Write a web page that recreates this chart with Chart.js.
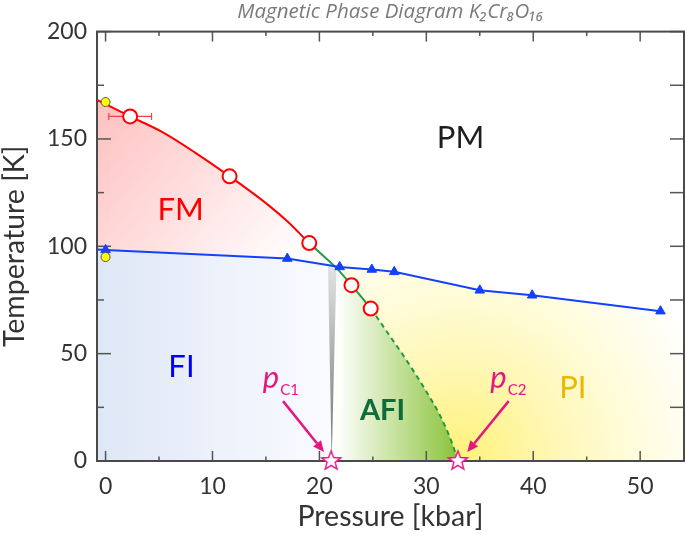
<!DOCTYPE html>
<html><head><meta charset="utf-8">
<script src="https://cdn.jsdelivr.net/npm/chart.js@4.4.1/dist/chart.umd.min.js"></script>
<style>html,body{margin:0;padding:0;background:#fff;}#wrap{width:685px;height:535px;}</style>
</head><body><div id="wrap"><canvas id="c" width="685" height="535"></canvas></div>
<script>
// ---------------- data ----------------
const xRange = [-0.8, 54.1];
const yRange = [0, 200];
const xTickValues = [0, 10, 20, 30, 40, 50];
const xMinorTickValues = [5, 15, 25, 35, 45];
const yTickValues = [0, 50, 100, 150, 200];
const yMinorTickValues = [25, 75, 125, 175];

// magnetic ordering boundary (FM -> PM, continued as AFI boundary)
const tcCurveP = [-0.8, 2.3, 5.2, 8.3, 11.6, 15.2, 17.1, 19.05, 21.65, 23.0, 24.8, 26.2, 28.0, 29.8, 31.3, 32.4, 32.95];
const tcCurveT = [168.2, 160.5, 153.5, 143.9, 132.6, 119.3, 111.2, 101.5, 89.6, 81.9, 71.0, 61.0, 48.0, 34.0, 21.0, 8.5, 0];
const greenStartP = 19.05;   // curve turns green here
const dashStartP = 24.8;     // curve turns dashed here
const crossP = 21.65;        // crossing with the metal-insulator line

// measured Tc (open red circles) and pressure error
const tcDataP = [2.3, 11.6, 19.05, 23.0, 24.8];
const tcDataT = [160.5, 132.6, 101.5, 81.9, 71.0];
const tcDataErrP = [2.0, 0, 0, 0, 0];

// metal-insulator transition (blue triangles)
const mitP = [0, 17.0, 21.9, 24.9, 27.0, 35.0, 39.9, 51.9];
const mitT = [98.3, 94.3, 90.4, 89.2, 88.1, 79.5, 77.2, 69.8];
const mitEdgeP = [-0.8, 54.1];   // where the line / PI region meet the frame
const mitEdgeT = [98.5, 68.4];

// ambient pressure points (yellow)
const ambientP = [0, 0];
const ambientT = [167.2, 95.0];

// critical pressures (stars)
const pcP = [21.1, 32.95];
const pcT = [0, 0];

// FI / AFI boundary (grey wedge)
const wedgeP = [20.8, 21.6, 21.15];
const wedgeT = [91.2, 90.6, 0];

// ---------------- helpers ----------------
const pts = (P, T) => P.map((p, i) => ({x: p, y: T[i]}));
const curvePts = pts(tcCurveP, tcCurveT);
const mitPts = pts(mitP, mitT);
const mitLine = [{x: mitEdgeP[0], y: mitEdgeT[0]}, ...mitPts];
const wedgePts = pts(wedgeP, wedgeT);

const fmFill = curvePts.filter(p => p.x <= crossP);
const afiFill = curvePts.filter(p => p.x >= crossP);
const fiFill = [...mitLine.filter(p => p.x < wedgeP[0]), wedgePts[0], wedgePts[2]];
const piFill = [wedgePts[1], ...mitPts.filter(p => p.x > wedgeP[1]), {x: mitEdgeP[1], y: mitEdgeT[1]}];
const errBar = [{x: tcDataP[0] - tcDataErrP[0], y: tcDataT[0]}, {x: tcDataP[0] + tcDataErrP[0], y: tcDataT[0]}];

function px(chart, p, t) { return [chart.scales.x.getPixelForValue(p), chart.scales.y.getPixelForValue(t)]; }
function linGrad(ctx, p0, t0, p1, t1, stops) {
  const chart = ctx.chart;
  if (!chart.chartArea) return 'rgba(0,0,0,0)';
  const [x0, y0] = px(chart, p0, t0), [x1, y1] = px(chart, p1, t1);
  const g = chart.ctx.createLinearGradient(x0, y0, x1, y1);
  stops.forEach(s => g.addColorStop(s[0], s[1]));
  return g;
}
function radGrad(ctx, p0, t0, r, stops) {
  const chart = ctx.chart;
  if (!chart.chartArea) return 'rgba(0,0,0,0)';
  const [x0, y0] = px(chart, p0, t0);
  const g = chart.ctx.createRadialGradient(x0, y0, 0, x0, y0, r);
  stops.forEach(s => g.addColorStop(s[0], s[1]));
  return g;
}
function starCanvas() {
  const c = document.createElement('canvas'); c.width = c.height = 24;
  const g = c.getContext('2d');
  g.beginPath();
  for (let i = 0; i < 10; i++) {
    const r = i % 2 === 0 ? 10 : 4.3, a = -Math.PI / 2 + i * Math.PI / 5;
    const X = 12 + r * Math.cos(a), Y = 12 + r * Math.sin(a);
    i ? g.lineTo(X, Y) : g.moveTo(X, Y);
  }
  g.closePath(); g.fillStyle = '#fff'; g.fill();
  g.lineWidth = 1.5; g.strokeStyle = '#e8198a'; g.stroke();
  return c;
}

const RED = '#ff0000', GREEN = '#1e9a48', BLUE = '#1440ff', MAG = '#e6167f';
const fillOnly = {borderWidth: 0, borderColor: 'rgba(0,0,0,0)', pointRadius: 0, showLine: true};

const datasets = [
  {label: 'ambient', data: pts(ambientP, ambientT), showLine: false, pointRadius: 4.5, pointBackgroundColor: '#ffff00', pointBorderColor: '#555', pointBorderWidth: 1, fill: false},
  {label: 'pc', data: pts(pcP, pcT), showLine: false, pointStyle: starCanvas(), pointRadius: 10, clip: false, fill: false},
  {label: 'Tc data', data: pts(tcDataP, tcDataT), showLine: false, pointRadius: 7, pointBackgroundColor: '#fff', pointBorderColor: RED, pointBorderWidth: 2, fill: false},
  {label: 'error', data: errBar, showLine: true, borderColor: '#ff4040', borderWidth: 1.2, pointStyle: 'line', pointRotation: 90, pointRadius: 3.5, pointBorderColor: '#ff4040', pointBorderWidth: 1.2, fill: false},
  {label: 'MIT points', data: mitPts, showLine: false, pointStyle: 'triangle', pointRadius: 5.5, pointBackgroundColor: BLUE, pointBorderColor: BLUE, pointBorderWidth: 1, fill: false},
  {label: 'MIT line', data: mitLine, showLine: true, borderColor: BLUE, borderWidth: 2, pointRadius: 0, fill: false},
  {label: 'Tc curve', data: curvePts, showLine: true, borderColor: RED, borderWidth: 2, pointRadius: 0, fill: false,
    cubicInterpolationMode: 'monotone',
    segment: {
      borderColor: c => c.p0.parsed.x >= greenStartP - 1e-6 ? GREEN : RED,
      borderDash: c => c.p0.parsed.x >= dashStartP - 1e-6 ? [5, 4] : []
    }},
  {label: 'wedge', data: wedgePts, ...fillOnly, fill: 'shape',
    backgroundColor: c => linGrad(c, 20.8, 90, 21.3, 0, [[0, '#e2e2e2'], [1, '#6e6e6e']])},
  {label: 'FM', data: fmFill, ...fillOnly, cubicInterpolationMode: 'monotone', fill: {target: 5},
    backgroundColor: c => linGrad(c, -0.8, 168, 18.2, 93.5, [[0, '#ffc0c0'], [1, '#ffffff']])},
  {label: 'FI', data: fiFill, ...fillOnly, fill: 'origin',
    backgroundColor: c => linGrad(c, -0.8, 50, 21, 50, [[0, 'rgb(222,231,246)'], [1, 'rgb(250,251,255)']])},
  {label: 'AFI', data: afiFill, ...fillOnly, cubicInterpolationMode: 'monotone', fill: 'origin',
    backgroundColor: c => linGrad(c, 21.6, 0, 32.8, 0, [[0, '#ffffff'], [1, 'rgb(140,196,60)']])},
  {label: 'PI', data: piFill, ...fillOnly, fill: 'origin',
    backgroundColor: c => radGrad(c, 33, 0, 265, [[0, 'rgb(255,242,120)'], [0.37, 'rgb(255,247,181)'], [0.6, 'rgb(255,251,212)'], [0.9, 'rgb(255,254,245)'], [1, '#ffffff']])}
];

const regionLabels = [
  {text: 'FM', p: 7.03, t: 112.1, color: '#ff0000', size: 31, weight: 'normal'},
  {text: 'PM', p: 33.2, t: 145.6, color: '#1e1e1e', size: 31, weight: 'normal'},
  {text: 'FI', p: 7.1, t: 39.1, color: '#0000ff', size: 31, weight: 'normal'},
  {text: 'AFI', p: 25.9, t: 19.1, color: '#0f6b38', size: 29, weight: 'bold'},
  {text: 'PI', p: 43.7, t: 29.3, color: '#ebb800', size: 31, weight: 'normal'}
];
const pcLabels = [
  {sub: 'C1', p: 14.71, t: 33.95, from: [16.6, 27.9], to: [20.43, 4.2]},
  {sub: 'C2', p: 35.99, t: 33.95, from: [37.7, 27.9], to: [33.83, 4.2]}
];

const framePlugin = {
  id: 'frame',
  beforeDatasetsDraw(chart) {
    const {ctx, chartArea: a, scales: {x, y}} = chart;
    ctx.save();
    ctx.strokeStyle = '#555'; ctx.lineWidth = 1.5;
    const seg = (x1, y1, x2, y2) => { ctx.beginPath(); ctx.moveTo(x1, y1); ctx.lineTo(x2, y2); ctx.stroke(); };
    xTickValues.forEach(v => { const X = x.getPixelForValue(v); seg(X, a.bottom, X, a.bottom - 10); seg(X, a.top, X, a.top + 10); });
    xMinorTickValues.forEach(v => { const X = x.getPixelForValue(v); seg(X, a.bottom, X, a.bottom - 4.5); seg(X, a.top, X, a.top + 4.5); });
    yTickValues.forEach(v => { const Y = y.getPixelForValue(v); seg(a.left, Y, a.left + 14, Y); seg(a.right, Y, a.right - 14, Y); });
    yMinorTickValues.forEach(v => { const Y = y.getPixelForValue(v); seg(a.left, Y, a.left + 7, Y); seg(a.right, Y, a.right - 14, Y); });
    ctx.lineWidth = 2; ctx.strokeStyle = '#4a4a4a';
    ctx.strokeRect(a.left, a.top, a.right - a.left, a.bottom - a.top);
    ctx.restore();
  },
  afterDatasetsDraw(chart) {
    const {ctx} = chart;
    ctx.save();
    ctx.textAlign = 'center'; ctx.textBaseline = 'alphabetic';
    regionLabels.forEach(l => {
      const [X, Y] = px(chart, l.p, l.t);
      ctx.font = `${l.weight} ${l.size}px Lato`;
      ctx.fillStyle = l.color;
      ctx.fillText(l.text, X, Y);
    });
    pcLabels.forEach(l => {
      const [X, Y] = px(chart, l.p, l.t);
      ctx.textAlign = 'left';
      ctx.fillStyle = MAG;
      ctx.font = 'italic 31px Lato';
      ctx.fillText('p', X, Y);
      const w = ctx.measureText('p').width;
      ctx.font = '15px Lato';
      ctx.fillText(l.sub, X + w + 1, Y + 7);
      const [x0, y0] = px(chart, l.from[0], l.from[1]);
      const [x1, y1] = px(chart, l.to[0], l.to[1]);
      const ang = Math.atan2(y1 - y0, x1 - x0), hl = 11, hw = 5;
      ctx.strokeStyle = MAG; ctx.lineWidth = 2.5;
      ctx.beginPath(); ctx.moveTo(x0, y0);
      ctx.lineTo(x1 - hl * Math.cos(ang), y1 - hl * Math.sin(ang)); ctx.stroke();
      ctx.beginPath();
      ctx.moveTo(x1, y1);
      ctx.lineTo(x1 - hl * Math.cos(ang) + hw * Math.sin(ang), y1 - hl * Math.sin(ang) - hw * Math.cos(ang));
      ctx.lineTo(x1 - hl * Math.cos(ang) - hw * Math.sin(ang), y1 - hl * Math.sin(ang) + hw * Math.cos(ang));
      ctx.closePath(); ctx.fill();
    });
    ctx.restore();
  }
};

Chart.defaults.font.family = "Lato, 'DejaVu Sans', sans-serif";
new Chart(document.getElementById('c'), {
  type: 'line',
  data: {datasets},
  options: {
    responsive: false, devicePixelRatio: 1, animation: false, events: [],
    layout: {autoPadding: false, padding: {left: 0, right: 1, top: 0, bottom: 0}},
    plugins: {
      legend: {display: false}, tooltip: {enabled: false},
      filler: {drawTime: 'beforeDatasetsDraw'},
      title: {display: true, text: 'Magnetic Phase Diagram K₂Cr₈O₁₆', fullSize: false, color: '#7a7a7a',
        font: {family: "'Open Sans', Lato, sans-serif", size: 20.5, style: 'italic', weight: 'normal'}, padding: {top: 0, bottom: 7}}
    },
    scales: {
      x: {type: 'linear', min: xRange[0], max: xRange[1],
        grid: {display: false, drawTicks: false}, border: {display: false},
        afterBuildTicks: s => { s.ticks = xTickValues.map(v => ({value: v})); },
        afterFit: s => { s.height = 74; },
        ticks: {color: '#333', font: {size: 23}, padding: 12, maxRotation: 0, autoSkip: false},
        title: {display: true, text: 'Pressure [kbar]', color: '#333', font: {size: 28.5}, padding: {top: 0, bottom: 1}}},
      y: {type: 'linear', min: yRange[0], max: yRange[1],
        grid: {display: false, drawTicks: false}, border: {display: false},
        afterBuildTicks: s => { s.ticks = yTickValues.map(v => ({value: v})); },
        afterFit: s => { s.width = 97; },
        ticks: {color: '#333', font: {size: 23}, padding: 10, autoSkip: false},
        title: {display: true, text: 'Temperature [K]', color: '#333', font: {size: 28.5}, padding: {top: -2, bottom: 0}}}
    }
  },
  plugins: [framePlugin]
});
</script></body></html>
